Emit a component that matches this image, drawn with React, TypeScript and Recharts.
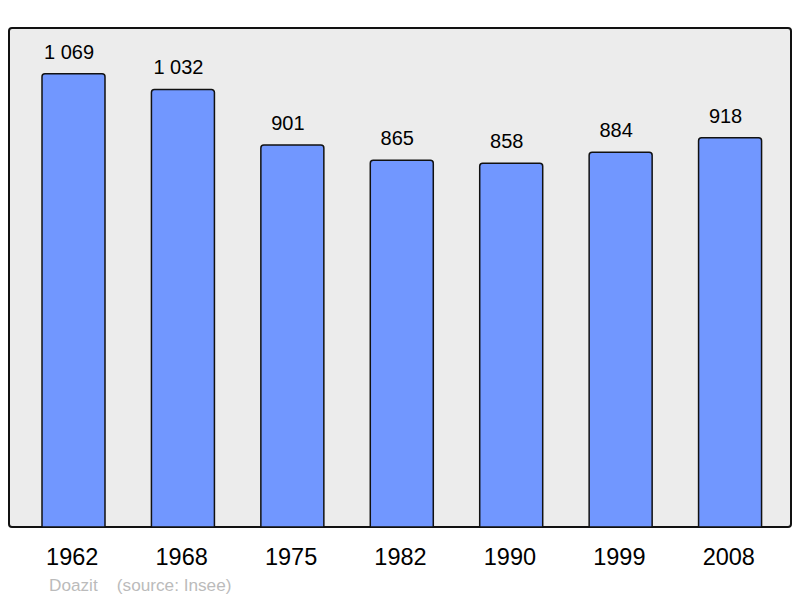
import { BarChart, Bar, XAxis, YAxis, LabelList } from 'recharts';

const years = ['1962', '1968', '1975', '1982', '1990', '1999', '2008'];
const population = [1069, 1032, 901, 865, 858, 884, 918];
const commune = 'Doazit';
const source = '(source: Insee)';

const data = years.map((year, i) => ({ year, population: population[i] }));

const formatNumber = (v: number) =>
  String(v).replace(/\B(?=(\d{3})+(?!\d))/g, ' ');

const FONT = '"Liberation Sans", Arial, sans-serif';

// value labels in the original sit a few px left of the bar centre
const ValueLabel = (props: any) => {
  const { x, y, width, value } = props;
  return (
    <text
      x={Number(x) + Number(width) / 2 - 4.5}
      y={Number(y) - 15}
      textAnchor="middle"
      fill="#000"
      fontSize={20}
      fontFamily={FONT}
    >
      {formatNumber(Number(value))}
    </text>
  );
};

const App = () => (
  <div style={{ position: 'absolute', left: 0, top: 0, width: 800, height: 598, fontFamily: FONT }}>
    <div
      style={{
        position: 'absolute',
        left: 8,
        top: 27,
        width: 784,
        height: 501,
        boxSizing: 'border-box',
        border: '2px solid #111',
        borderRadius: 4,
        background: '#ececec',
      }}
    />
    <div style={{ position: 'absolute', left: 0, top: 0 }}>
      <BarChart
        width={800}
        height={598}
        data={data}
        margin={{ top: 28, right: 9, left: 9, bottom: 31 }}
      >
        <XAxis
          dataKey="year"
          height={40}
          axisLine={false}
          tickLine={false}
          tickSize={0}
          tickMargin={21}
          padding={{ left: 10, right: 6 }}
          tick={{ fill: '#000', fontSize: 23.5, fontFamily: FONT, dx: -1.5 }}
        />
        <YAxis hide domain={[0, 1177]} />
        <Bar
          dataKey="population"
          fill="#7197ff"
          stroke="#111"
          strokeWidth={1.5}
          barSize={63}
          radius={[3, 3, 0, 0]}
          isAnimationActive={false}
        >
          <LabelList dataKey="population" content={ValueLabel} />
        </Bar>
      </BarChart>
    </div>
    <div
      style={{
        position: 'absolute',
        left: 49,
        top: 575,
        fontSize: 17.2,
        color: '#bbbbbb',
        whiteSpace: 'pre',
      }}
    >
      {commune}    {source}
    </div>
  </div>
);

export default App;
